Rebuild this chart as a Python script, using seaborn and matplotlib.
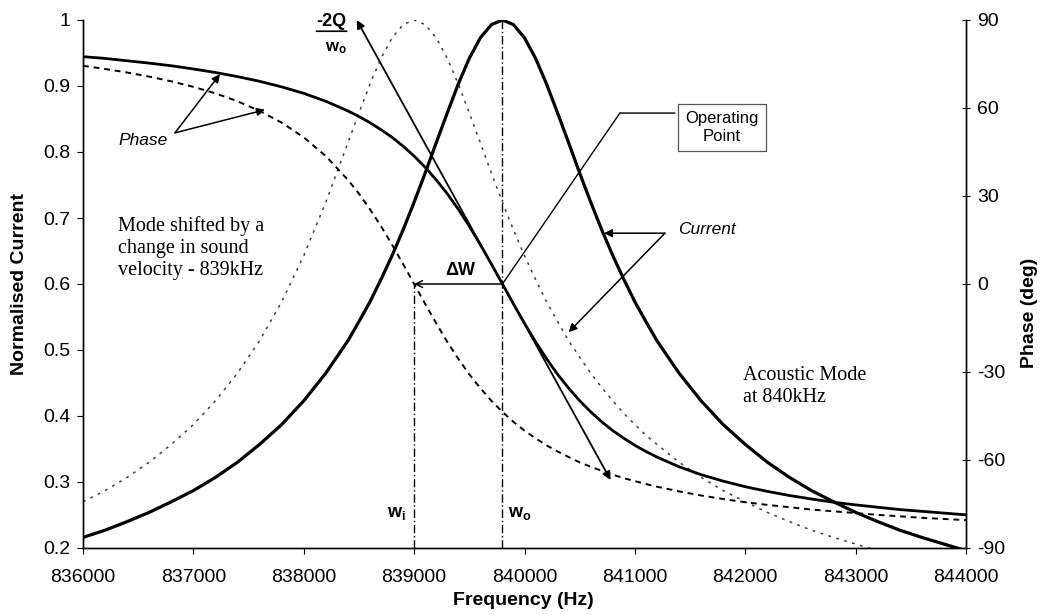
import matplotlib
matplotlib.use("Agg")
import matplotlib.pyplot as plt
import seaborn as sns

# Sweep frequencies (Hz); finer spacing around the two resonances
freq_hz = [836000, 836200, 836400, 836600, 836800, 837000, 837200, 837400, 837600,
           837800, 838000, 838200, 838400,
           838500, 838600, 838700, 838800, 838900, 839000, 839100, 839200, 839300,
           839400, 839500, 839600, 839700, 839800, 839900, 840000, 840100, 840200,
           840300, 840400, 840500, 840600, 840700, 840800, 840900, 841000, 841100,
           841200,
           841400, 841600, 841800, 842000, 842200, 842400, 842600, 842800, 843000,
           843200, 843400, 843600, 843800, 844000]

# Acoustic mode at 840 kHz: normalised current and phase (deg)
current_840 = [0.216, 0.227, 0.240, 0.254, 0.270, 0.287, 0.307, 0.330, 0.357, 0.387,
               0.423, 0.465, 0.514,
               0.543, 0.573, 0.607, 0.643, 0.682, 0.724, 0.768, 0.814, 0.859, 0.903,
               0.942, 0.973, 0.993, 1.000, 0.993, 0.973, 0.942, 0.903, 0.859, 0.814,
               0.768, 0.724, 0.682, 0.643, 0.607, 0.573, 0.543, 0.514,
               0.465, 0.423, 0.387, 0.357, 0.330, 0.307, 0.287, 0.270, 0.254, 0.240,
               0.227, 0.216, 0.206, 0.196]
phase_840 = [77.5, 76.9, 76.1, 75.3, 74.4, 73.3, 72.1, 70.7, 69.1, 67.2, 65.0, 62.3, 59.0,
             57.1, 55.0, 52.6, 50.0, 47.0, 43.6, 39.8, 35.5, 30.8, 25.5, 19.7, 13.4, 6.8,
             0.0, -6.8, -13.4, -19.7, -25.5, -30.8, -35.5, -39.8, -43.6, -47.0, -50.0,
             -52.6, -55.0, -57.1, -59.0,
             -62.3, -65.0, -67.2, -69.1, -70.7, -72.1, -73.3, -74.4, -75.3, -76.1,
             -76.9, -77.5, -78.1, -78.7]

# Mode shifted to 839 kHz by a change in sound velocity
current_839 = [0.270, 0.287, 0.307, 0.330, 0.357, 0.387, 0.423, 0.465, 0.514, 0.573,
               0.643, 0.724, 0.814,
               0.859, 0.903, 0.942, 0.973, 0.993, 1.000, 0.993, 0.973, 0.942, 0.903,
               0.859, 0.814, 0.768, 0.724, 0.682, 0.643, 0.607, 0.573, 0.543, 0.514,
               0.489, 0.465, 0.443, 0.423, 0.404, 0.387, 0.371, 0.357,
               0.330, 0.307, 0.287, 0.270, 0.254, 0.240, 0.227, 0.216, 0.206, 0.196,
               0.188, 0.180, 0.172, 0.166]
phase_839 = [74.4, 73.3, 72.1, 70.7, 69.1, 67.2, 65.0, 62.3, 59.0, 55.0, 50.0, 43.6, 35.5,
             30.8, 25.5, 19.7, 13.4, 6.8, 0.0, -6.8, -13.4, -19.7, -25.5, -30.8, -35.5,
             -39.8, -43.6, -47.0, -50.0, -52.6, -55.0, -57.1, -59.0, -60.8, -62.3, -63.7,
             -65.0, -66.2, -67.2, -68.2, -69.1,
             -70.7, -72.1, -73.3, -74.4, -75.3, -76.1, -76.9, -77.5, -78.1, -78.7,
             -79.2, -79.7, -80.1, -80.5]

f_res_840 = 839800   # w_o
f_res_839 = 839000   # w_i

x_ticks = [836000, 837000, 838000, 839000, 840000, 841000, 842000, 843000, 844000]
current_ticks = [0.2, 0.3, 0.4, 0.5, 0.6, 0.7, 0.8, 0.9, 1.0]
current_tick_labels = ["0.2", "0.3", "0.4", "0.5", "0.6", "0.7", "0.8", "0.9", "1"]
phase_ticks = [-90, -60, -30, 0, 30, 60, 90]

sns.set_theme(style="white")
plt.rcParams["font.family"] = ["Liberation Sans", "DejaVu Sans"]
plt.rcParams["mathtext.fontset"] = "custom"
plt.rcParams["mathtext.rm"] = "Liberation Sans"
plt.rcParams["mathtext.it"] = "Liberation Sans:italic"
plt.rcParams["mathtext.bf"] = "Liberation Sans:bold"
plt.rcParams["text.color"] = "black"
plt.rcParams["axes.labelcolor"] = "black"

SERIF = ["Liberation Serif", "DejaVu Serif"]

fig = plt.figure(figsize=(10.45, 6.15), dpi=100)
ax = fig.add_axes([83 / 1045, 1 - 548 / 615, 883 / 1045, 528 / 615])
ax2 = ax.twinx()

# Current curves (left axis)
sns.lineplot(x=freq_hz, y=current_840, ax=ax, color="black", lw=2.3,
             errorbar=None, sort=False)
sns.lineplot(x=freq_hz, y=current_839, ax=ax, color="#3c3c3c", lw=1.1,
             linestyle=(0, (1.8, 3.6)), errorbar=None, sort=False)
# Phase curves (right axis)
sns.lineplot(x=freq_hz, y=phase_840, ax=ax2, color="black", lw=2.0,
             errorbar=None, sort=False)
sns.lineplot(x=freq_hz, y=phase_839, ax=ax2, color="black", lw=1.4,
             linestyle=(0, (3.0, 2.5)), errorbar=None, sort=False)

ax.set_xlim(836000, 844000)
ax.set_ylim(0.2, 1.0)
ax2.set_ylim(-90, 90)

# Resonance markers
dashdot = (0, (6, 2, 1, 2))
ax.vlines(f_res_840, 0.2, max(current_840), colors="black", lw=1.0, linestyles=[dashdot])
op_level = 0.2 + 0.8 * (0 + 90) / 180
ax.vlines(f_res_839, 0.2, op_level, colors="black", lw=1.0, linestyles=[dashdot])

# Axes, ticks, labels
ax.set_xticks(x_ticks)
ax.set_xticklabels([str(t) for t in x_ticks])
ax.set_yticks(current_ticks)
ax.set_yticklabels(current_tick_labels)
ax2.set_yticks(phase_ticks)
ax2.set_yticklabels([str(t) for t in phase_ticks])

for a in (ax, ax2):
    a.spines["top"].set_visible(False)
    for s in ("left", "right", "bottom"):
        a.spines[s].set_color("black")
        a.spines[s].set_linewidth(1.0)
    a.grid(False)

ax.tick_params(axis="x", bottom=True, direction="out", length=4, width=0.8,
               labelsize=14, pad=11, colors="black")
ax.tick_params(axis="y", left=True, direction="out", length=4, width=0.8,
               labelsize=14, pad=5, colors="black")
ax2.tick_params(axis="y", right=True, direction="inout", length=6, width=0.8,
                labelsize=14, pad=5, colors="black")

ax.set_xlabel("Frequency (Hz)", fontsize=14, fontweight="bold")
ax.set_ylabel("Normalised Current", fontsize=14, fontweight="bold")
ax2.set_ylabel("Phase (deg)", fontsize=14, fontweight="bold")
ax.xaxis.set_label_coords(0.499, -0.083)
ax.yaxis.set_label_coords(-0.062, 0.5)
ax2.yaxis.set_label_coords(1.062, 0.445)

# Annotations
arrow_kw = dict(arrowstyle="-|>", color="black", lw=1.1, mutation_scale=12,
                shrinkA=0, shrinkB=0)

# Slope of the phase at the operating point
ax.annotate("", xy=(838480, 1.0), xytext=(840780, 0.303),
            arrowprops=dict(arrowstyle="<|-|>", color="black", lw=1.3,
                            mutation_scale=12, shrinkA=0, shrinkB=0))
ax.text(838250, 0.997, "-2Q", fontsize=13, fontweight="bold", ha="center", va="center")
ax.annotate("", xy=(838090, 0.983), xytext=(838415, 0.983),
            arrowprops=dict(arrowstyle="-", color="black", lw=1.2))
ax.text(838292, 0.957, r"$\mathbf{w_o}$", fontsize=12, ha="center", va="center")

# Phase labels
ax.text(836317, 0.818, "Phase", fontsize=12.5, style="italic", ha="left", va="center")
ax.annotate("", xy=(837241, 0.918), xytext=(836833, 0.829), arrowprops=arrow_kw)
ax.annotate("", xy=(837649, 0.864), xytext=(836833, 0.829), arrowprops=arrow_kw)

# Current labels
ax.text(841389, 0.682, "Current", fontsize=12.5, style="italic", ha="left", va="center")
ax.annotate("", xy=(840720, 0.677), xytext=(841272, 0.677), arrowprops=arrow_kw)
ax.annotate("", xy=(840400, 0.527), xytext=(841272, 0.677), arrowprops=arrow_kw)

# Operating point callout
ax.text(841788, 0.837, "Operating\nPoint", fontsize=12, ha="center", va="center",
        linespacing=1.2,
        bbox=dict(boxstyle="square,pad=0.45", fc="white", ec="#555555", lw=0.9))
ax2.annotate("", xy=(f_res_840, 0), xytext=(840864, 0.859 * 225 - 135),
             arrowprops=dict(arrowstyle="-", color="black", lw=1.0,
                             shrinkA=0, shrinkB=0))
ax.annotate("", xy=(840864, 0.859), xytext=(841362, 0.859),
            arrowprops=dict(arrowstyle="-", color="black", lw=1.0,
                            shrinkA=0, shrinkB=0))

# Frequency shift between the two modes
ax2.annotate("", xy=(f_res_839, 0), xytext=(f_res_840, 0),
             arrowprops=dict(arrowstyle="->", color="black", lw=1.1,
                             mutation_scale=12, shrinkA=0, shrinkB=0))
ax.text(839415, 0.620, "\u0394W", fontsize=13, fontweight="bold", ha="center", va="center")

ax.text(838754, 0.253, r"$\mathbf{w_i}$", fontsize=13, ha="left", va="center")
ax.text(839850, 0.253, r"$\mathbf{w_o}$", fontsize=13, ha="left", va="center")

# Mode descriptions
ax.text(836317, 0.6545, "Mode shifted by a\nchange in sound\nvelocity - 839kHz",
        fontsize=14.5, family=SERIF, ha="left", va="center", linespacing=1.2)
ax.text(841978, 0.445, "Acoustic Mode\nat 840kHz", fontsize=14.5, family=SERIF,
        ha="left", va="center", linespacing=1.25)

fig.savefig("out.png", dpi=100, facecolor="white")
